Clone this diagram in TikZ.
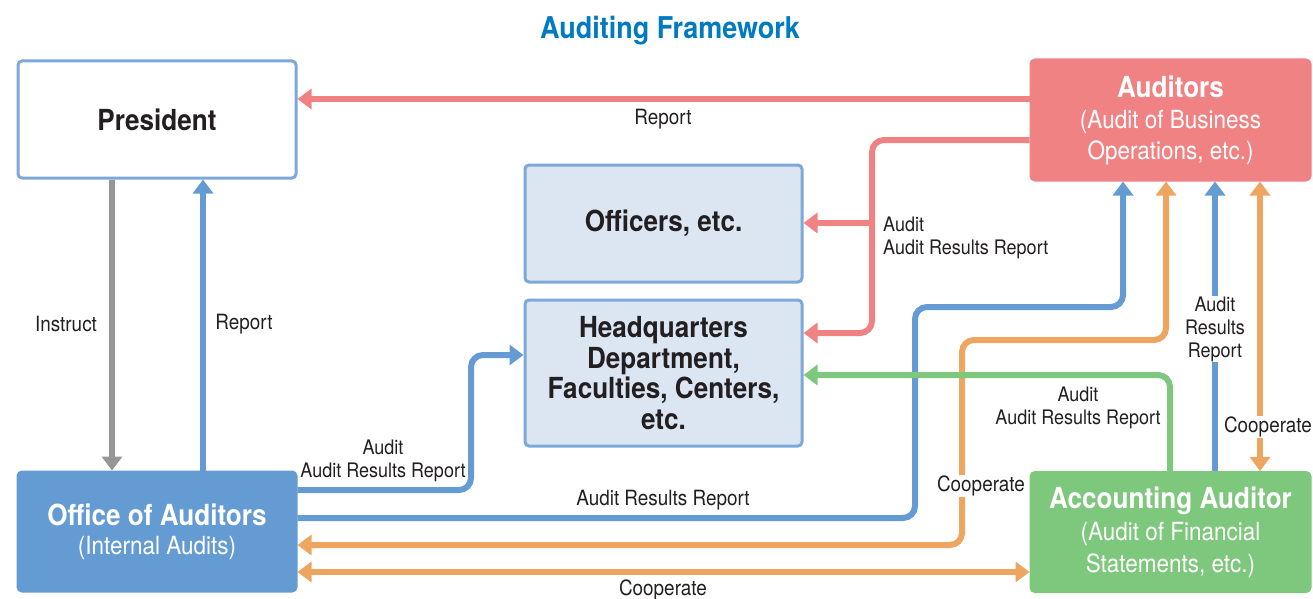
\documentclass[tikz,border=0pt]{standalone}
\usepackage{fontspec}
\setmainfont{TeX Gyre Heros}[FakeStretch=0.9]
\usetikzlibrary{arrows.meta}
\definecolor{redc}{RGB}{240,130,132}
\definecolor{bluec}{RGB}{100,155,210}
\definecolor{bordc}{RGB}{125,168,218}
\definecolor{lightc}{RGB}{220,230,243}
\definecolor{grayc}{RGB}{150,150,152}
\definecolor{orangec}{RGB}{238,165,95}
\definecolor{greenc}{RGB}{125,200,125}
\definecolor{titlec}{RGB}{0,122,192}
\definecolor{txtc}{RGB}{35,31,32}
\begin{document}
\begin{tikzpicture}[x=1pt,y=-1pt,
  box/.style={rectangle,rounded corners=4pt,line width=3pt,inner sep=0pt,align=center},
  whitebox/.style={box,draw=bordc,fill=white,text=txtc},
  lightbox/.style={box,draw=bordc,fill=lightc,text=txtc},
  colbox/.style={box,draw=#1,fill=#1,text=white},
  conn/.style={line width=6pt,rounded corners=12pt},
  arr/.style={conn,-{Triangle[width=20pt,length=14pt]}},
  darr/.style={conn,{Triangle[width=20pt,length=14pt]}-{Triangle[width=20pt,length=14pt]}},
  lbl/.style={text=txtc,font=\fontsize{21}{23}\selectfont,inner sep=0pt},
  lbl2/.style={text=txtc,font=\fontsize{20}{23}\selectfont,inner sep=0pt,align=center},
  halo/.style={fill=white,inner sep=1pt},
  big/.style={font=\bfseries\fontsize{29}{31}\selectfont},
]
\useasboundingbox (0,0) rectangle (1313,599);
% title
\node[text=titlec,font=\bfseries\fontsize{30}{32}\selectfont] (title) at (670,31) {Auditing Framework};
% boxes
\node[whitebox,minimum width=278pt,minimum height=117pt,big] (pres) at (157,119.5) {President};
\node[lightbox,minimum width=277pt,minimum height=117pt,big] (off) at (663.5,223.5) {Officers, etc.};
\node[lightbox,minimum width=277pt,minimum height=146pt,font=\bfseries\fontsize{29}{30.5}\selectfont] (hq) at (663.5,373) {Headquarters\\Department,\\Faculties, Centers,\\etc.};
\node[colbox=redc,minimum width=279pt,minimum height=120pt,font=\fontsize{25}{31}\selectfont] (aud) at (1170.5,120) {{\bfseries\fontsize{29}{31}\selectfont Auditors}\\(Audit of Business\\Operations, etc.)};
\node[colbox=bluec,minimum width=278pt,minimum height=119pt,font=\fontsize{25}{31}\selectfont] (oa) at (157,531.5) {\raisebox{-2pt}{\bfseries\fontsize{29}{31}\selectfont Office of Auditors}\\(Internal Audits)};
\node[colbox=greenc,minimum width=279pt,minimum height=119pt,font=\fontsize{25}{32}\selectfont] (acc) at (1170.5,532) {{\bfseries\fontsize{29}{33}\selectfont Accounting Auditor}\\(Audit of Financial\\Statements, etc.)};
% connectors
\draw[redc,arr] (aud.west |- 0,99) -- (pres.east |- 0,99);
\draw[redc,arr] (aud.west |- 0,140) -- (872,140) -- (872,333) -- (hq.east |- 0,333);
\draw[redc,arr] (872,223) -- (off.east |- 0,223);
\draw[grayc,arr] (pres.south -| 112,0) -- (oa.north -| 112,0);
\draw[bluec,arr] (oa.north -| 203,0) -- (pres.south -| 203,0);
\draw[bluec,arr] (oa.east |- 0,490) -- (471,490) -- (471,355) -- (hq.west |- 0,355);
\draw[bluec,arr] (oa.east |- 0,518) -- (915,518) -- (915,307) -- (1123,307) -- (aud.south -| 1123,0);
\draw[orangec,darr] (oa.east |- 0,545) -- (962,545) -- (962,340) -- (1166,340) -- (aud.south -| 1166,0);
\draw[greenc,arr] (acc.north -| 1170,0) -- (1170,375) -- (hq.east |- 0,375);
\draw[bluec,arr] (acc.north -| 1215,0) -- (aud.south -| 1215,0);
\draw[orangec,darr] (aud.south -| 1260,0) -- (acc.north -| 1260,0);
\draw[orangec,darr] (oa.east |- 0,572) -- (acc.west |- 0,572);
% labels
\node[lbl] (l1) at (663,119) {Report};
\node[lbl2,align=left,anchor=west] (l2) at (883,238) {Audit\\Audit Results Report};
\node[lbl] (l3) at (66,324) {Instruct};
\node[lbl] (l4) at (244,324) {Report};
\node[lbl2] (l5) at (383,461) {Audit\\Audit Results Report};
\node[lbl] (l6) at (663,500) {Audit Results Report};
\node[lbl,halo] (l7) at (981,486) {Cooperate};
\node[lbl2,halo] (l8) at (1215,329) {Audit\\Results\\Report};
\node[lbl,halo] (l9) at (1268,427) {Cooperate};
\node[lbl2] (l10) at (1078,408) {Audit\\Audit Results Report};
\node[lbl] (l11) at (663,590) {Cooperate};
\end{tikzpicture}
\end{document}
